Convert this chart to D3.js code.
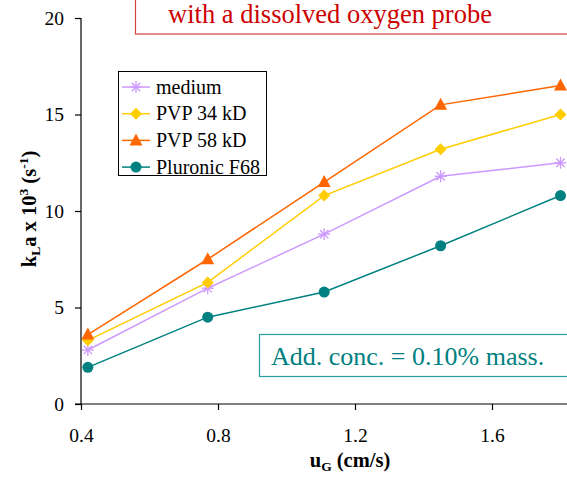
<!DOCTYPE html>
<html>
<head>
<meta charset="utf-8">
<script src="https://cdn.jsdelivr.net/npm/d3@7"></script>
<style>
  body { margin: 0; background: #fff; }
</style>
</head>
<body>
<div id="chart"></div>
<script>
// ========= DATA =========
const uG = [0.42, 0.77, 1.11, 1.45, 1.80];
const medium    = [2.8, 6.0, 8.8, 11.8, 12.5];
const pvp34     = [3.3, 6.3, 10.8, 13.2, 15.0];
const pvp58     = [3.6, 7.5, 11.5, 15.5, 16.5];
const pluronic  = [1.9, 4.5, 5.8, 8.2, 10.8];
const seriesNames = ["medium", "PVP 34 kD", "PVP 58 kD", "Pluronic F68"];
const xTicks = [0.4, 0.8, 1.2, 1.6];
const yTicks = [0, 5, 10, 15, 20];

const series = [
  { name: seriesNames[0], values: medium,   color: "#cc99ff", marker: "star" },
  { name: seriesNames[1], values: pvp34,    color: "#ffcc00", marker: "diamond" },
  { name: seriesNames[2], values: pvp58,    color: "#ff6600", marker: "triangle" },
  { name: seriesNames[3], values: pluronic, color: "#008080", marker: "circle" }
];

const FONT = "Liberation Serif";

// ========= LAYOUT =========
const W = 567, H = 482;
const x = d3.scaleLinear().domain([0.4, 1.8]).range([81, 560.5]);
const y = d3.scaleLinear().domain([0, 20]).range([404, 18]);

const svg = d3.select("#chart").append("svg")
  .attr("width", W).attr("height", H)
  .attr("font-family", FONT);

// title box (cut off at top/right)
svg.append("rect")
  .attr("x", 135.5).attr("y", -20).attr("width", 460).attr("height", 54)
  .attr("fill", "#fff").attr("stroke", "#d04040").attr("stroke-width", 1.2);
svg.append("text")
  .attr("x", 330).attr("y", 23).attr("text-anchor", "middle")
  .attr("font-family", FONT)
  .attr("fill", "#cc0000").attr("font-size", 26.5)
  .text("with a dissolved oxygen probe");

// axes
const yAxis = svg.append("g").attr("transform", "translate(81,0)")
  .call(d3.axisLeft(y).tickValues(yTicks).tickSize(6).tickPadding(11).tickFormat(d3.format("d")));
yAxis.select(".domain").attr("d", `M-0,${y(20)}V${y(0)}`);

const xAxis = svg.append("g").attr("transform", "translate(0,404)")
  .call(d3.axisBottom(x).tickValues(xTicks).tickSize(6).tickPadding(18).tickFormat(d3.format(".1f")));
xAxis.select(".domain").attr("d", `M75,0H567`);

yAxis.attr("font-family", FONT).attr("font-size", 19.5);
xAxis.attr("font-family", FONT).attr("font-size", 19.5);
svg.selectAll(".tick text").attr("fill", "#000");
svg.selectAll(".domain, .tick line").attr("stroke", "#000").attr("stroke-width", 1.2);

// axis labels
const yl = svg.append("text")
  .attr("transform", "translate(36,209) rotate(-90)")
  .attr("font-family", FONT)
  .attr("text-anchor", "middle").attr("font-weight", "bold").attr("font-size", 20.5);
yl.append("tspan").text("k");
yl.append("tspan").attr("font-size", 13.5).attr("dy", 4).text("L");
yl.append("tspan").attr("dy", -4).text("a x 10");
yl.append("tspan").attr("font-size", 13.5).attr("dy", -8).text("3");
yl.append("tspan").attr("dy", 8).text(" (s");
yl.append("tspan").attr("font-size", 13.5).attr("dy", -8).text("-1");
yl.append("tspan").attr("dy", 8).text(")");

const xl = svg.append("text")
  .attr("x", 350).attr("y", 467)
  .attr("font-family", FONT)
  .attr("text-anchor", "middle").attr("font-weight", "bold").attr("font-size", 20.5);
xl.append("tspan").text("u");
xl.append("tspan").attr("font-size", 13.5).attr("dy", 4).text("G");
xl.append("tspan").attr("dy", -4).text(" (cm/s)");

// markers
function drawMarker(g, type, color) {
  if (type === "star") {
    const r = 6;
    [[-r, 0, r, 0], [0, -r, 0, r], [-r * .7, -r * .7, r * .7, r * .7], [-r * .7, r * .7, r * .7, -r * .7]]
      .forEach(l => g.append("line")
        .attr("x1", l[0]).attr("y1", l[1]).attr("x2", l[2]).attr("y2", l[3])
        .attr("stroke", color).attr("stroke-width", 1.3));
  } else if (type === "diamond") {
    g.append("path").attr("d", "M0,-6L6,0L0,6L-6,0Z").attr("fill", color);
  } else if (type === "triangle") {
    g.append("path").attr("d", "M0,-7L6.5,5L-6.5,5Z").attr("fill", color);
  } else {
    g.append("circle").attr("r", 5.5).attr("fill", color);
  }
}

const line = d3.line().x((d, i) => x(uG[i])).y(d => y(d));

series.forEach(s => {
  svg.append("path").datum(s.values)
    .attr("d", line).attr("fill", "none")
    .attr("stroke", s.color).attr("stroke-width", 1.5);
  s.values.forEach((v, i) => {
    const g = svg.append("g").attr("transform", `translate(${x(uG[i])},${y(v)})`);
    drawMarker(g, s.marker, s.color);
  });
});

// legend
const leg = svg.append("g");
leg.append("rect")
  .attr("x", 118.5).attr("y", 71.5).attr("width", 148).attr("height", 104)
  .attr("fill", "#fff").attr("stroke", "#000").attr("stroke-width", 1);
series.forEach((s, i) => {
  const cy = 87 + i * 26.7;
  const g = leg.append("g").attr("transform", `translate(0,${cy})`);
  g.append("line").attr("x1", 122).attr("x2", 150).attr("y1", 0).attr("y2", 0)
    .attr("stroke", s.color).attr("stroke-width", 1.5);
  drawMarker(g.append("g").attr("transform", "translate(136,0)"), s.marker, s.color);
  g.append("text").attr("x", 156).attr("y", 6.5)
    .attr("font-family", FONT)
    .attr("font-size", 20).attr("fill", "#000").text(s.name);
});

// annotation box
svg.append("rect")
  .attr("x", 259.5).attr("y", 334.5).attr("width", 330).attr("height", 42)
  .attr("fill", "#fff").attr("stroke", "#2a9d9d").attr("stroke-width", 1.2);
svg.append("text")
  .attr("x", 271).attr("y", 365)
  .attr("font-family", FONT)
  .attr("font-size", 26).attr("fill", "#008080")
  .text("Add. conc. = 0.10% mass.");
</script>
</body>
</html>
